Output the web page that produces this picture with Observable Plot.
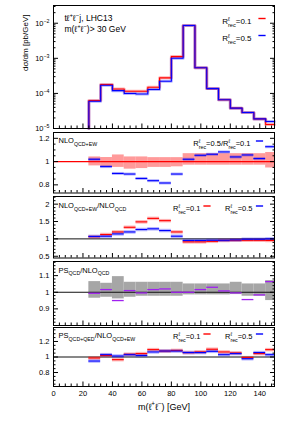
<!DOCTYPE html>
<html>
<head>
<meta charset="utf-8">
<script src="https://cdn.jsdelivr.net/npm/d3@7"></script>
<script src="https://cdn.jsdelivr.net/npm/@observablehq/plot@0.6"></script>
<style>
  body { margin: 0; background: #fff; }
  #chart { position: relative; width: 291px; height: 424px; overflow: hidden; background: #fff; }
</style>
</head>
<body>
<div id="chart"></div>
<script>
// ---------------- data ----------------
const binEdges = [24, 32, 40, 48, 56, 64, 72, 80, 88, 96, 104, 112, 120, 128, 136, 144, 150];
const xMajorTicks = [0, 20, 40, 60, 80, 100, 120, 140];

// main panel: dσ/dm [pb/GeV]
const xsecR01 = [6.3e-5, 1.8e-4, 1.34e-4, 1.15e-4, 1.15e-4, 1.5e-4, 2.78e-4, 1.12e-3, 8.6e-3, 5.4e-4, 1.37e-4, 6.6e-5, 3.8e-5, 2.85e-5, 1.88e-5, 1.3e-5];
const xsecR05 = [6.0e-5, 1.7e-4, 1.2e-4, 9.9e-5, 9.6e-5, 1.29e-4, 2.23e-4, 1.0e-3, 8.6e-3, 5.4e-4, 1.37e-4, 6.6e-5, 3.8e-5, 2.85e-5, 1.88e-5, 1.58e-5];
const mainYTicks = [1e-5, 1e-4, 1e-3, 1e-2];

// panel 2: NLO QCD+EW, R=0.5 / R=0.1 and scale band
const ewRatio05over01 = [1.02, 0.957, 0.898, 0.893, 0.855, 0.836, 0.816, 0.893, 1.02, 1.054, 1.063, 1.083, 1.04, 1.057, 1.026, 1.128];
const ewBandHigh = [1.04, 1.035, 1.057, 1.04, 1.04, 1.034, 1.034, 1.034, 1.068, 1.068, 1.068, 1.068, 1.068, 1.068, 1.068, 1.078];
const ewBandLow = [0.963, 0.95, 0.95, 0.935, 0.94, 0.95, 0.95, 0.955, 0.969, 0.969, 0.969, 0.969, 0.969, 0.969, 0.969, 0.945];
const p2YTicks = [0.8, 1, 1.2];

// panel 3: NLO QCD+EW / NLO QCD
const kR01 = [1.065, 1.126, 1.2, 1.334, 1.49, 1.59, 1.525, 1.2, 0.914, 0.914, 0.93, 0.954, 0.96, 0.96, 0.96, 0.954];
const kR05 = [1.07, 1.077, 1.143, 1.2, 1.27, 1.29, 1.24, 1.077, 0.954, 0.954, 0.96, 0.96, 0.97, 0.99, 0.99, 1.0];
const p3YTicks = [0.5, 1, 1.5, 2];

// panel 4: PS QCD / NLO QCD
const psRatio = [0.994, 1.016, 0.95, 1.01, 0.996, 1.016, 1.02, 1.0, 1.0, 1.016, 1.03, 1.008, 0.996, 0.956, 0.984, 1.064];
const psBandHigh = [1.064, 1.054, 1.094, 1.06, 1.06, 1.06, 1.06, 1.06, 1.05, 1.05, 1.05, 1.05, 1.06, 1.05, 1.05, 1.07];
const psBandLow = [0.964, 0.97, 0.96, 0.97, 0.976, 0.976, 0.976, 0.976, 0.984, 0.984, 0.984, 0.984, 0.986, 0.976, 0.976, 0.95];
const p4YTicks = [0.9, 1, 1.1];

// panel 5: PS QCD+QED / NLO QCD+EW
const qedR01 = [0.987, 1.02, 0.966, 1.035, 1.044, 1.095, 1.077, 1.085, 1.057, 1.065, 1.1, 1.065, 1.052, 0.992, 1.044, 1.095];
const qedR05 = [0.948, 1.03, 1.013, 1.03, 1.02, 1.065, 1.077, 1.077, 1.057, 1.057, 1.073, 1.03, 1.044, 0.978, 1.057, 1.03];
const p5YTicks = [0.8, 1, 1.2];

// ---------------- layout helpers ----------------
const W = 291, ML = 53, MR = 17;
const FONT = '"Liberation Sans", Arial, Helvetica, sans-serif';
const RED = "#ff0000", BLUE = "#0000ff", PURPLE = "#a020f0";
const container = document.getElementById("chart");

const bins = binEdges.slice(0, -1).map((lo, i) => ({lo, hi: binEdges[i + 1], i}));
const segs = (vals) => bins.map((b) => ({lo: b.lo, hi: b.hi, v: vals[b.i]}));
const band = (lo, hi) => bins.map((b) => ({lo: b.lo, hi: b.hi, low: lo[b.i], high: hi[b.i]}));
function stepPoints(vals, base) {
  const pts = [{x: binEdges[0], y: base}];
  vals.forEach((v, i) => pts.push({x: binEdges[i], y: v}, {x: binEdges[i + 1], y: v}));
  return pts;
}
const rnd = (v) => Math.round(v * 1000) / 1000;
const minorRange = (a, b, s, majors) => d3.range(Math.round((b - a) / s) + 1).map((k) => rnd(a + k * s)).filter((v) => !majors.includes(v));
const xMinorTicks = d3.range(0, 151, 4).filter((v) => !xMajorTicks.includes(v));

const dash = { draw(ctx, size) { const r = Math.sqrt(size / Math.PI); ctx.moveTo(-r, 0); ctx.lineTo(r, 0); } };

function axes(yMajor, yMinor, fmt, showX) {
  return [
    Plot.axisY(yMajor, {anchor: "left", tickSize: -5, tickPadding: 9, tickFormat: fmt, label: null, fontSize: 7.5}),
    Plot.axisY(yMinor, {anchor: "left", tickSize: -2.5, fill: "none", label: null}),
    Plot.axisY(yMajor, {anchor: "right", tickSize: -5, fill: "none", label: null}),
    Plot.axisY(yMinor, {anchor: "right", tickSize: -2.5, fill: "none", label: null}),
    Plot.axisX(xMajorTicks, {anchor: "bottom", tickSize: -4.5, tickPadding: 8.5, fill: showX ? "black" : "none", tickFormat: String, label: null, fontSize: 7.5}),
    Plot.axisX(xMinorTicks, {anchor: "bottom", tickSize: -2.5, fill: "none", label: null}),
    Plot.frame({stroke: "black", strokeWidth: 1})
  ];
}
const label = (t, o) => Plot.text([t], {text: (d) => d, textAnchor: "start", frameAnchor: "top-left", fontSize: 7.5, fill: "black", ...o});
const legendDash = (color, o) => Plot.dot([0], {frameAnchor: "top-right", r: 3.6, symbol: dash, stroke: color, strokeWidth: 1.4, ...o});

function makePanel({frameTop, frameBottom, y, marks, mt = 6, mb = 6}) {
  const svg = Plot.plot({
    width: W,
    height: frameBottom - frameTop + mt + mb,
    marginLeft: ML, marginRight: MR, marginTop: mt, marginBottom: mb,
    x: {domain: [0, 150], label: null},
    y: {...y, label: null},
    style: {background: "transparent", overflow: "visible", fontFamily: FONT, fontSize: "7.5px", color: "black"},
    marks
  });
  svg.style.position = "absolute";
  svg.style.left = "0px";
  svg.style.top = (frameTop - mt) + "px";
  container.appendChild(svg);
  return svg;
}

// ---------------- panels ----------------
const mainDomain = [1e-5, 3.2e-2];
const mainMinor = [];
for (let k = -5; k <= -2; k++) for (let m = 2; m <= 9; m++) { const v = m * Math.pow(10, k); if (v <= mainDomain[1]) mainMinor.push(v); }

const svgs = [];
svgs.push(makePanel({
  frameTop: 5, frameBottom: 128,
  y: {type: "log", domain: mainDomain},
  marks: [
    Plot.line(stepPoints(xsecR01, mainDomain[0]), {x: "x", y: "y", stroke: RED, strokeWidth: 3, strokeOpacity: 0.3}),
    Plot.line(stepPoints(xsecR05, mainDomain[0]), {x: "x", y: "y", stroke: BLUE, strokeWidth: 3, strokeOpacity: 0.3}),
    Plot.line(stepPoints(xsecR01, mainDomain[0]), {x: "x", y: "y", stroke: RED, strokeWidth: 1.1}),
    Plot.line(stepPoints(xsecR05, mainDomain[0]), {x: "x", y: "y", stroke: BLUE, strokeWidth: 1.1}),
    ...axes(mainYTicks, mainMinor, (d) => `10^{−${Math.round(-Math.log10(d))}}`, false),
    label("tℓ^{+}ℓ^{−}j, LHC13", {dx: 11, dy: 9, fontSize: 8.5}),
    label("m(ℓ^{+}ℓ^{−})> 30 GeV", {dx: 11, dy: 20, fontSize: 8.5}),
    label("R^{ℓ}_{rec}=0.1", {frameAnchor: "top-right", textAnchor: "end", dx: -23, dy: 13, fontSize: 8}),
    legendDash(RED, {dx: -12.5, dy: 13}),
    label("R^{ℓ}_{rec}=0.5", {frameAnchor: "top-right", textAnchor: "end", dx: -23, dy: 30, fontSize: 8}),
    legendDash(BLUE, {dx: -12.5, dy: 30}),
    Plot.text(["dσ/dm [pb/GeV]"], {text: (d) => d, frameAnchor: "top-left", dx: -31, dy: 9, rotate: -90, textAnchor: "end", fontSize: 8, fill: "black"})
  ]
}));

svgs.push(makePanel({
  frameTop: 131.5, frameBottom: 192,
  y: {domain: [0.73, 1.25]},
  marks: [
    Plot.rect(band(ewBandLow, ewBandHigh), {x1: "lo", x2: "hi", y1: "low", y2: "high", fill: "#ff6f6f", fillOpacity: 0.7}),
    Plot.ruleY([1], {stroke: RED, strokeWidth: 1.2}),
    Plot.ruleY(segs(ewRatio05over01), {x1: "lo", x2: "hi", y: "v", stroke: BLUE, strokeWidth: 3, strokeOpacity: 0.3}),
    Plot.ruleY(segs(ewRatio05over01), {x1: "lo", x2: "hi", y: "v", stroke: BLUE, strokeWidth: 1.1}),
    ...axes(p2YTicks, minorRange(0.75, 1.25, 0.05, p2YTicks), String, false),
    label("NLO_{QCD+EW}", {dx: 5, dy: 5.5}),
    label("R^{ℓ}_{rec}=0.5/R^{ℓ}_{rec}=0.1", {frameAnchor: "top-right", textAnchor: "end", dx: -24, dy: 8.5}),
    legendDash(BLUE, {dx: -15, dy: 8.5})
  ]
}));

svgs.push(makePanel({
  frameTop: 195.5, frameBottom: 257,
  y: {domain: [0.45, 2.22]},
  marks: [
    Plot.ruleY([1], {stroke: "#111", strokeWidth: 1}),
    Plot.ruleY(segs(kR01), {x1: "lo", x2: "hi", y: "v", stroke: RED, strokeWidth: 3.5, strokeOpacity: 0.3}),
    Plot.ruleY(segs(kR05), {x1: "lo", x2: "hi", y: "v", stroke: BLUE, strokeWidth: 3.5, strokeOpacity: 0.3}),
    Plot.ruleY(segs(kR01), {x1: "lo", x2: "hi", y: "v", stroke: RED, strokeWidth: 1.1}),
    Plot.ruleY(segs(kR05), {x1: "lo", x2: "hi", y: "v", stroke: BLUE, strokeWidth: 1.1}),
    ...axes(p3YTicks, minorRange(0.5, 2.2, 0.1, p3YTicks), String, false),
    label("NLO_{QCD+EW}/NLO_{QCD}", {dx: 5, dy: 6.5}),
    label("R^{ℓ}_{rec}=0.1", {frameAnchor: "top-right", textAnchor: "end", dx: -74, dy: 9.5}),
    legendDash(RED, {dx: -67.5, dy: 9.5}),
    label("R^{ℓ}_{rec}=0.5", {frameAnchor: "top-right", textAnchor: "end", dx: -22, dy: 9.5}),
    legendDash(BLUE, {dx: -15, dy: 9.5})
  ]
}));

svgs.push(makePanel({
  frameTop: 261, frameBottom: 325,
  y: {domain: [0.8, 1.185]},
  marks: [
    Plot.rect(band(psBandLow, psBandHigh), {x1: "lo", x2: "hi", y1: "low", y2: "high", fill: "#a6a6a6"}),
    Plot.ruleY([1], {stroke: "#111", strokeWidth: 1}),
    Plot.ruleY(segs(psRatio), {x1: "lo", x2: "hi", y: "v", stroke: PURPLE, strokeWidth: 1.3}),
    ...axes(p4YTicks, minorRange(0.8, 1.18, 0.02, p4YTicks), String, false),
    label("PS_{QCD}/NLO_{QCD}", {dx: 5, dy: 5.7})
  ]
}));

svgs.push(makePanel({
  frameTop: 327, frameBottom: 386, mb: 38,
  y: {domain: [0.62, 1.38]},
  marks: [
    Plot.ruleY([1], {stroke: "#111", strokeWidth: 1}),
    Plot.ruleY(segs(qedR01), {x1: "lo", x2: "hi", y: "v", stroke: RED, strokeWidth: 3.5, strokeOpacity: 0.3}),
    Plot.ruleY(segs(qedR05), {x1: "lo", x2: "hi", y: "v", stroke: BLUE, strokeWidth: 3.5, strokeOpacity: 0.3}),
    Plot.ruleY(segs(qedR01), {x1: "lo", x2: "hi", y: "v", stroke: RED, strokeWidth: 1.1}),
    Plot.ruleY(segs(qedR05), {x1: "lo", x2: "hi", y: "v", stroke: BLUE, strokeWidth: 1.1}),
    ...axes(p5YTicks, minorRange(0.65, 1.35, 0.05, p5YTicks), String, true),
    label("PS_{QCD+QED}/NLO_{QCD+EW}", {dx: 5, dy: 5.5}),
    label("R^{ℓ}_{rec}=0.1", {frameAnchor: "top-right", textAnchor: "end", dx: -74, dy: 6.5}),
    legendDash(RED, {dx: -67.5, dy: 6.5}),
    label("R^{ℓ}_{rec}=0.5", {frameAnchor: "top-right", textAnchor: "end", dx: -22, dy: 6.5}),
    legendDash(BLUE, {dx: -15, dy: 6.5}),
    Plot.text(["m(ℓ^{+}ℓ^{−}) [GeV]"], {text: (d) => d, frameAnchor: "bottom", dy: 23, fontSize: 9, fill: "black"})
  ]
}));

// ---------------- sub/superscript markup -> tspans ----------------
function richify(root) {
  const ns = "http://www.w3.org/2000/svg";
  root.querySelectorAll("text").forEach((el) => {
    const s = el.textContent;
    if (!/[\^_]\{/.test(s)) return;
    const fs = parseFloat(getComputedStyle(el).fontSize) || 8;
    const parts = [];
    const re = /([\^_])\{([^}]*)\}/g;
    let last = 0, m;
    while ((m = re.exec(s))) {
      if (m.index > last) parts.push({type: "n", t: s.slice(last, m.index)});
      parts.push({type: m[1] === "^" ? "sup" : "sub", t: m[2]});
      last = re.lastIndex;
    }
    if (last < s.length) parts.push({type: "n", t: s.slice(last)});
    el.textContent = "";
    let cur = 0, prev = null;
    for (const p of parts) {
      const ts = document.createElementNS(ns, "tspan");
      const target = p.type === "sup" ? -0.38 * fs : p.type === "sub" ? 0.3 * fs : 0;
      ts.setAttribute("dy", (target - cur).toFixed(2));
      cur = target;
      if (p.type !== "n") ts.setAttribute("font-size", (0.7 * fs).toFixed(2));
      ts.textContent = p.t;
      el.appendChild(ts);
      if (p.type === "sub" && prev && prev.type === "sup") {
        ts.setAttribute("dx", (-prev.el.getComputedTextLength()).toFixed(2));
      }
      prev = {type: p.type, el: ts};
    }
  });
}
svgs.forEach(richify);
</script>
</body>
</html>
